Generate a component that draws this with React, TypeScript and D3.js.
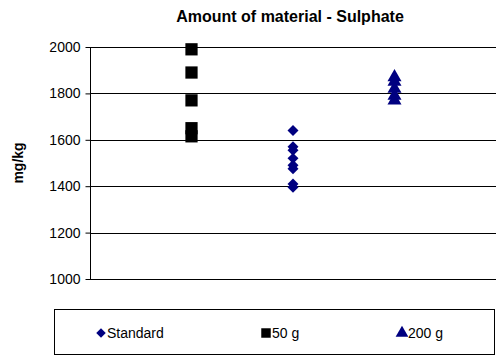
import { useEffect, useRef } from "react";
import * as d3 from "d3";

const title = "Amount of material - Sulphate";
const yLabel = "mg/kg";
const yTicks = [1000, 1200, 1400, 1600, 1800, 2000];

const seriesNames = ["Standard", "50 g", "200 g"];
const seriesX = [2, 1, 3];
const standardValues = [1640, 1570, 1555, 1520, 1490, 1475, 1410, 1395];
const fiftyValues = [1990, 1890, 1770, 1650, 1615];
const twoHundredValues = [1870, 1850, 1820, 1790, 1770];

const W = 496;
const H = 358;

function App() {
    const svgRef = useRef<SVGSVGElement>(null);

    useEffect(() => {
        const svg = d3.select(svgRef.current!);
        svg.selectAll("*").remove();

        const left = 90, right = 496, top = 47, bottom = 279;
        const x = d3.scaleLinear().domain([0, 4]).range([left, right]);
        const y = d3.scaleLinear().domain([1000, 2000]).range([bottom, top]);

        svg.append("rect").attr("width", W).attr("height", H).attr("fill", "#fff");

        svg.append("text")
            .attr("x", 290).attr("y", 22)
            .attr("text-anchor", "middle")
            .attr("font-family", "Liberation Sans, Arial, sans-serif")
            .attr("font-weight", "bold")
            .attr("font-size", 16)
            .text(title);

        // gridlines
        svg.append("g").selectAll("line")
            .data(yTicks)
            .enter().append("line")
            .attr("x1", left).attr("x2", right)
            .attr("y1", d => Math.round(y(d)) + 0.5)
            .attr("y2", d => Math.round(y(d)) + 0.5)
            .attr("stroke", "#000");

        const axis = svg.append("g")
            .attr("transform", `translate(${left + 0.5},0)`)
            .call(d3.axisLeft(y).tickValues(yTicks).tickSize(5).tickFormat(d3.format("d")));
        axis.select(".domain").remove();
        axis.selectAll("line").attr("stroke", "#000");
        axis.selectAll("text")
            .attr("font-family", "Liberation Sans, Arial, sans-serif")
            .attr("font-size", 14)
            .attr("fill", "#000")
            .attr("dx", "-2");
        svg.append("line")
            .attr("x1", left + 0.5).attr("x2", left + 0.5)
            .attr("y1", top).attr("y2", bottom + 0.5)
            .attr("stroke", "#000");

        svg.append("text")
            .attr("transform", `translate(23,${(top + bottom) / 2}) rotate(-90)`)
            .attr("text-anchor", "middle")
            .attr("font-family", "Liberation Sans, Arial, sans-serif")
            .attr("font-weight", "bold")
            .attr("font-size", 14)
            .text(yLabel);

        const navy = "#000080";
        const diamond = d3.symbol().type(d3.symbolSquare).size(60)();
        const square = d3.symbol().type(d3.symbolSquare).size(150)();
        const triangle = d3.symbol().type(d3.symbolTriangle).size(85)();

        const pts = svg.append("g");
        pts.selectAll(".std").data(standardValues).enter().append("path")
            .attr("d", diamond!)
            .attr("transform", d => `translate(${x(seriesX[0])},${y(d)}) rotate(45)`)
            .attr("fill", navy);
        pts.selectAll(".fifty").data(fiftyValues).enter().append("path")
            .attr("d", square!)
            .attr("transform", d => `translate(${x(seriesX[1])},${y(d)})`)
            .attr("fill", "#000");
        pts.selectAll(".two").data(twoHundredValues).enter().append("path")
            .attr("d", triangle!)
            .attr("transform", d => `translate(${x(seriesX[2])},${y(d)})`)
            .attr("fill", navy);

        // legend
        const lg = svg.append("g");
        lg.append("rect")
            .attr("x", 54.5).attr("y", 309.5)
            .attr("width", 440).attr("height", 45)
            .attr("fill", "#fff").attr("stroke", "#000");
        const legendX = [101, 266, 402];
        const legendShapes = [
            { d: d3.symbol().type(d3.symbolSquare).size(45)(), rot: 45, fill: navy },
            { d: d3.symbol().type(d3.symbolSquare).size(90)(), rot: 0, fill: "#000" },
            { d: d3.symbol().type(d3.symbolTriangle).size(70)(), rot: 0, fill: navy },
        ];
        seriesNames.forEach((name, i) => {
            lg.append("path")
                .attr("d", legendShapes[i].d!)
                .attr("transform", `translate(${legendX[i]},333) rotate(${legendShapes[i].rot})`)
                .attr("fill", legendShapes[i].fill);
            lg.append("text")
                .attr("x", legendX[i] + 6).attr("y", 338)
                .attr("font-family", "Liberation Sans, Arial, sans-serif")
                .attr("font-size", 14)
                .text(name);
        });
    }, []);

    return (
        <div style={{ position: "fixed", left: 0, top: 0 }}>
            <svg ref={svgRef} width={W} height={H} style={{ display: "block" }}></svg>
        </div>
    );
}

export default App;
